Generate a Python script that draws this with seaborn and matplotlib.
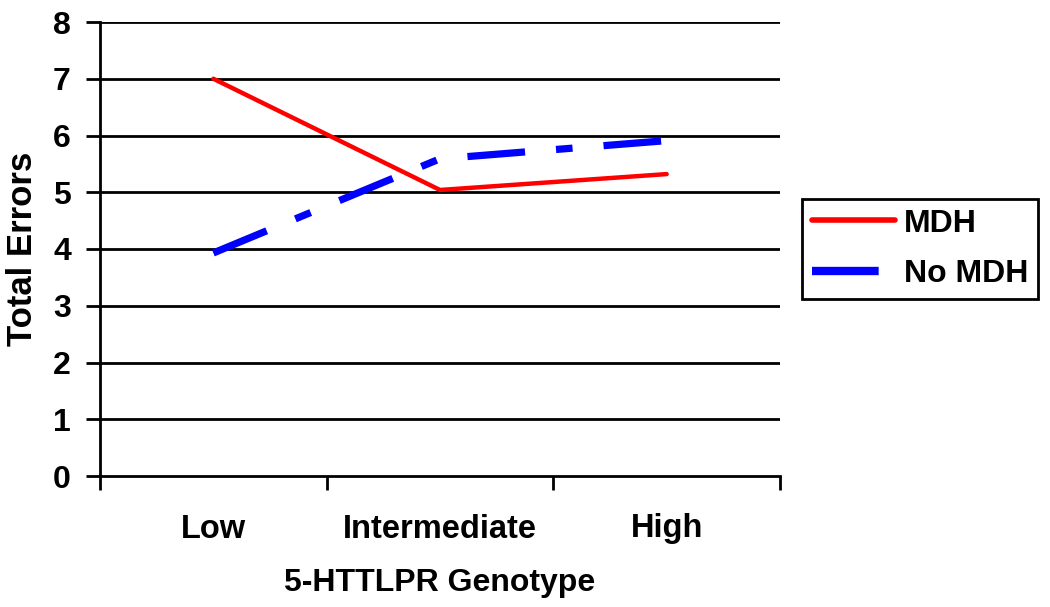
import pandas as pd
import numpy as np
import matplotlib
matplotlib.use("Agg")
import matplotlib.pyplot as plt
import seaborn as sns

# === Dados ===
genotypes = ["Low", "Intermediate", "High"]
mdh = [7.0, 5.04, 5.32]
no_mdh = [3.93, 5.59, 5.91]
groups = ["MDH", "No MDH"]
colors = {"MDH": "#FF0000", "No MDH": "#0000FF"}

df = pd.DataFrame({
    "Genotype": genotypes * 2,
    "Errors": mdh + no_mdh,
    "Group": ["MDH"] * 3 + ["No MDH"] * 3,
})
df["pos"] = df["Genotype"].map({g: i for i, g in enumerate(genotypes)})

sns.set_style("white")
plt.rcParams["font.family"] = ["Liberation Sans", "DejaVu Sans"]
plt.rcParams["font.weight"] = "bold"
for k in ["text.color", "axes.labelcolor", "xtick.color", "ytick.color"]:
    plt.rcParams[k] = "black"

fig = plt.figure(figsize=(10.5, 6.07), dpi=100)
ax = fig.add_axes([100 / 1050, 1 - 476 / 607, 680 / 1050, 454 / 607])

# linhas horizontais
for yv in range(1, 9):
    ax.axhline(yv, color="black", lw=2, zorder=1)

sns.lineplot(data=df, x="pos", y="Errors", hue="Group", style="Group",
             hue_order=groups, style_order=groups, palette=colors,
             dashes={"MDH": "", "No MDH": (8, 4.3, 2.3, 4.3)},
             markers=False, ax=ax, legend=True, zorder=3)

# espessura das linhas por cor
widths = {"#FF0000": 3.2, "#0000FF": 5.2}
for line in ax.get_lines():
    c = matplotlib.colors.to_hex(line.get_color()).upper()
    if c in widths:
        line.set_linewidth(widths[c])

ax.set_xlim(-0.5, 2.5)
ax.set_ylim(0, 8)
ax.set_yticks(range(0, 9))
ax.set_xticks(range(3))
ax.set_xticklabels(genotypes, fontsize=23.5, fontweight="bold")
ax.set_xticks([-0.5, 0.5, 1.5, 2.5], minor=True)
ax.tick_params(axis="x", which="major", bottom=True, length=0, pad=27)
ax.tick_params(axis="x", which="minor", bottom=True, length=10, width=2,
               color="black", direction="out")
ax.tick_params(axis="y", left=True, length=10, width=2, color="black",
               direction="out", labelsize=23, pad=11)
for t in ax.get_yticklabels():
    t.set_fontweight("bold")

for side in ["top", "right"]:
    ax.spines[side].set_visible(False)
for side in ["left", "bottom"]:
    ax.spines[side].set_color("black")
    ax.spines[side].set_linewidth(2)

ax.set_xlabel("5-HTTLPR Genotype", fontsize=23, fontweight="bold", labelpad=17)
ax.set_ylabel("Total Errors", fontsize=25, fontweight="bold", labelpad=10)

# legenda
handles, labels = ax.get_legend_handles_labels()
ax.legend(handles, labels, loc="upper left",
          bbox_to_anchor=(802 / 1050, 1 - 199 / 607),
          bbox_transform=fig.transFigure,
          prop={"size": 23, "weight": "bold"},
          frameon=True, fancybox=False, edgecolor="black",
          handlelength=2.6, handletextpad=0.3, borderpad=0.3,
          labelspacing=0.65, borderaxespad=0)
leg = ax.get_legend()
leg.get_frame().set_linewidth(2)
leg.get_frame().set_alpha(1)
for h, lw in zip(leg.get_lines(), [4, 6]):
    h.set_linewidth(lw)

fig.savefig("out.png", dpi=100, facecolor="white")
